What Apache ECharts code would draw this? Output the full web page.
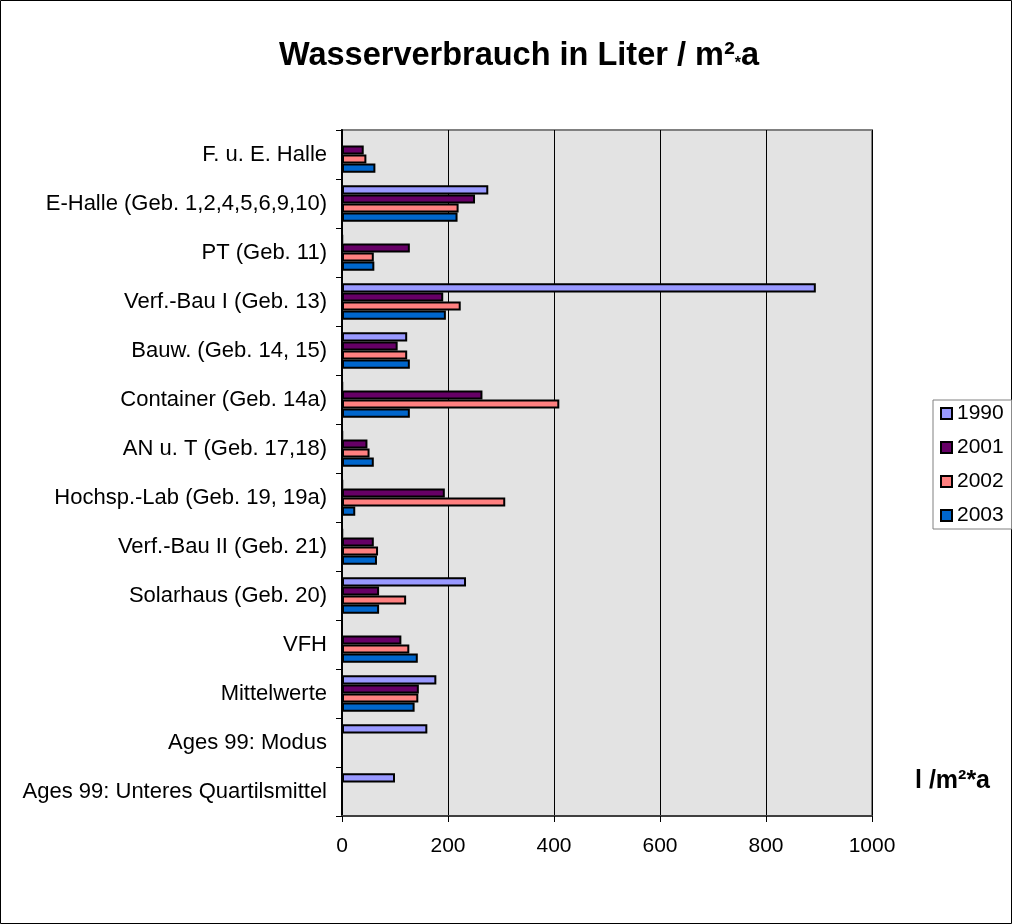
<!DOCTYPE html>
<html><head><meta charset="utf-8">
<script src="https://cdn.jsdelivr.net/npm/echarts@6/dist/echarts.min.js"></script>
<style>html,body{margin:0;padding:0;background:#fff}#c{width:1012px;height:924px}</style>
</head><body><div id="c"></div>
<script>
const categories = ["F. u. E. Halle","E-Halle (Geb. 1,2,4,5,6,9,10)","PT (Geb. 11)","Verf.-Bau I (Geb. 13)","Bauw. (Geb. 14, 15)","Container (Geb. 14a)","AN u. T (Geb. 17,18)","Hochsp.-Lab (Geb. 19, 19a)","Verf.-Bau II (Geb. 21)","Solarhaus (Geb. 20)","VFH","Mittelwerte","Ages 99: Modus","Ages 99: Unteres Quartilsmittel"];
const seriesNames = ["1990","2001","2002","2003"];
const v1990 = [null,276,1,894,123,1,1,1,1,234,null,178,161,100];
const v2001 = [41,251,128,191,105,265,48,194,60,70,112,145,null,null];
const v2002 = [46,220,60,224,123,410,52,308,68,121,127,144,null,null];
const v2003 = [63,218,61,196,128,128,60,25,66,70,143,137,null,null];
const xTicks = [0,200,400,600,800,1000];
const colors = ["#9999ff","#660066","#ff8080","#0066cc"];
const allValues = [v1990,v2001,v2002,v2003];
const FF = 'Liberation Sans, Arial, sans-serif';

const chart = echarts.init(document.getElementById('c'));
chart.setOption({
  animation:false,
  backgroundColor:'#fff',
  title:{text:'{a|Wasserverbrauch in Liter / m²}{s|*}{a|a}',left:514,top:35,textAlign:'center',
    textStyle:{rich:{
      a:{fontFamily:FF,fontSize:32.5,fontWeight:'bold',color:'#000'},
      s:{fontFamily:FF,fontSize:16,fontWeight:'bold',color:'#000',padding:[14,0,0,0]}
    }}},
  graphic:[
    {type:'rect',shape:{x:0.5,y:0.5,width:1011,height:923},style:{fill:'none',stroke:'#000',lineWidth:1},z:-10},
    {type:'text',left:915,top:769,style:{text:'l /m²*a',font:'bold 25px '+FF,fill:'#000'}}
  ],
  legend:{orient:'vertical',left:933,top:400,itemWidth:11,itemHeight:11,itemGap:13,
    padding:[3,8,3,7],borderColor:'#808080',borderWidth:1,backgroundColor:'#fff',
    data:seriesNames,icon:'rect',
    itemStyle:{borderColor:'#000',borderWidth:2},
    textStyle:{fontFamily:FF,fontSize:21,color:'#000',padding:[0,0,0,0]}},
  grid:{left:342,top:130,width:530,height:686,containLabel:false,show:true,backgroundColor:'#e3e3e3',borderColor:'#808080',borderWidth:2},
  xAxis:{type:'value',min:0,max:1000,interval:200,
    axisLine:{show:true,lineStyle:{color:'#404040',width:2}},
    axisTick:{show:true,length:6,lineStyle:{color:'#000'}},
    splitLine:{show:true,lineStyle:{color:'#000',width:1}},
    axisLabel:{fontFamily:FF,fontSize:21,color:'#000',margin:20,formatter:v=>String(v)}},
  yAxis:{type:'category',data:categories,inverse:true,
    axisLine:{show:true,lineStyle:{color:'#000',width:2}},
    axisTick:{show:true,length:6,lineStyle:{color:'#000'}},
    axisLabel:{fontFamily:FF,fontSize:22,color:'#000',margin:15}},
  series: seriesNames.map((n,i)=>({
    name:n,type:'bar',data:allValues[i],barGap:'0%',barCategoryGap:'26%',
    itemStyle:{color:colors[i],borderColor:'#000',borderWidth:2}
  }))
});
</script></body></html>
